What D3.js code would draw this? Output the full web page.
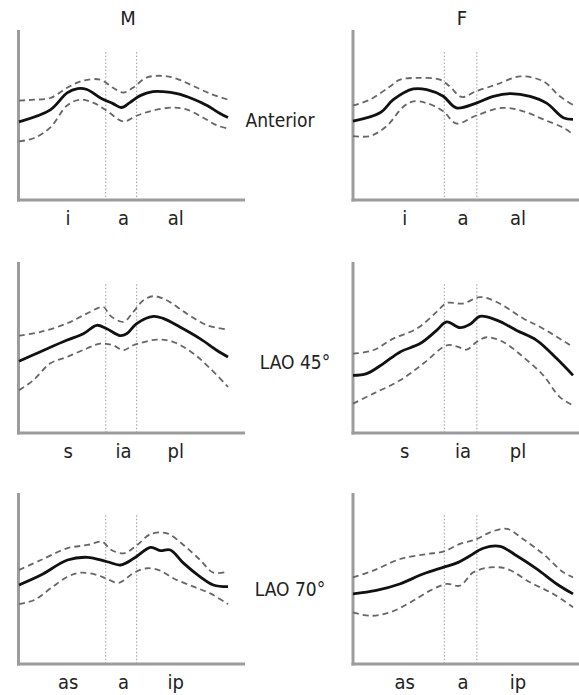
<!DOCTYPE html>
<html>
<head>
<meta charset="utf-8">
<script src="https://cdn.jsdelivr.net/npm/d3@7"></script>
<style>
  body { margin: 0; background: #fff; }
  svg text { font-family: "Liberation Sans Narrow", "DejaVu Sans Condensed", "Roboto", sans-serif; fill: #222; }
</style>
</head>
<body>
<svg id="chart" width="579" height="695"></svg>
<script>
// columns, rows and tick labels
var columns = ["M", "F"];
var rows = ["Anterior", "LAO 45°", "LAO 70°"];
var tickLabels = [["i", "a", "al"], ["s", "ia", "pl"], ["as", "a", "ip"]];
var tickPos = [23.5, 50, 75];
var dividers = [41.5, 56.3];

// curves: [position % along the wall, value % of axis height]
var mAntMean = [[0,46],[15,53],[23,63],[28,65.5],[32.5,65],[39,60],[45,56.7],[49,54.4],[53,57.3],[58,61.4],[64,63.7],[69,63.7],[75.6,62.6],[83,59.6],[90,55.6],[96,51],[100,48.5]];
var mAntUp   = [[0,58.5],[7,59],[15,60],[23,66],[30.6,70.2],[38.8,70.8],[45,66],[49.8,63.2],[54.5,66],[61,72],[69,73],[75.6,71.3],[83,67.3],[91.4,62.6],[100,59]];
var mAntLow  = [[0,34.5],[7,36.3],[15,42.7],[23,55.6],[29,59],[35.4,57.3],[42,52.6],[49.8,46.2],[56.5,49.7],[64,52.6],[73.7,54.4],[80.4,53.2],[88,48.5],[94.7,43.9],[100,42]];

var fAntMean = [[0,46.4],[12.3,51.3],[18.3,59],[27.4,65.3],[33.5,64.9],[41,61],[47,54.2],[56,57],[63.8,61],[71.4,62.6],[80.5,61],[88,57],[95.6,48.4],[100,47.4]];
var fAntUp   = [[0,55.6],[7.7,59],[16.8,66.8],[21.4,70.8],[29,71.8],[39.5,70.8],[44,66.8],[49.4,60.6],[56,64],[65,67.8],[76,72.7],[86.5,69.8],[94,61],[100,56]];
var fAntLow  = [[0,37.6],[7.7,37.6],[15.3,43.5],[23,55],[27.4,58],[33.5,57],[41,52.2],[47,45],[56,49.7],[68,54.2],[77.4,52.2],[86.5,47.4],[95.6,42.5],[100,38.6]];

var m45Mean = [[0,42],[10,47.4],[22.8,54.2],[30.8,58],[37.2,63],[42,61],[48.3,57],[51.5,58],[56.3,64],[64.3,68.2],[69,67],[77,62],[86.6,55.2],[94.6,48.4],[100,44.4]];
var m45Up   = [[0,57],[10,59],[22.8,64],[32.4,69.8],[40.4,73.7],[43.5,68.8],[50,65],[54.7,70.8],[59.5,77.6],[64.3,80],[70.7,77.6],[80.3,69.8],[90,63],[100,60.5]];
var m45Low  = [[0,25],[6.8,30.8],[14.8,40.6],[22.8,44.4],[32.4,49.4],[38.8,52.3],[45,51.3],[50,48.4],[54.7,51.3],[66,54.6],[74,53.2],[83.5,46.4],[91.5,37.7],[100,27]];

var f45Mean = [[0,33.7],[6.2,34.7],[13.8,40.6],[21.4,47.4],[30.5,52.3],[38,60],[42.6,65],[48.6,61.6],[53.2,63.6],[57.7,68.2],[65.3,66],[74.4,60],[83.5,54.2],[92.6,43.5],[100,33.7]];
var f45Up   = [[0,46.4],[9.2,48.4],[18.3,55.2],[29,61],[38,70.8],[42.6,76],[50,75.7],[57.7,79.5],[65.3,76.6],[77.4,67],[86.5,61],[100,50.3]];
var f45Low  = [[0,17.2],[9.2,23],[21.4,30.8],[32,40.6],[42.6,51.3],[47,50.7],[51.7,48.8],[56.2,53.2],[60.8,56],[68.3,53.2],[77.4,44.4],[86.5,33.7],[94,21],[100,16.2]];

var m70Mean = [[0,46.2],[10.5,52],[23.2,60.8],[32.7,62.4],[42.2,59.8],[48.6,57.9],[55,61.8],[63,68.2],[67.6,66.3],[72.4,66.7],[78.7,59],[86.7,51],[93,46.2],[100,45.2]];
var m70Up   = [[0,55],[10.5,60.8],[23.2,67.7],[32.7,69.6],[39.8,71.5],[43.8,67],[50.2,64.7],[56.5,69.6],[63,76],[70.8,76.4],[78.7,69.6],[86.7,60.8],[93,53.4],[100,54]];
var m70Low  = [[0,35],[7.3,37.4],[15.2,44.3],[23.2,51],[29.5,53.4],[37.5,52],[42.2,49.7],[47.8,47.5],[55,53.4],[61.3,56],[67.6,54.6],[74,50],[83.5,45.2],[91.5,41.3],[100,35]];

var f70Mean = [[0,41],[10.6,43],[21.2,46.8],[31.8,52.6],[41,56.5],[47,59],[53.2,63.3],[59.2,67.7],[66.8,68.8],[74.4,63.3],[83.5,55.6],[92.6,46.8],[100,41]];
var f70Up   = [[0,50.7],[9.2,54.6],[21.4,61.4],[33.5,64.3],[41,65.7],[48.6,70.2],[56.2,73],[62.3,77],[70,79],[77.4,73],[86.5,64.3],[95.6,53.6],[100,50.7]];
var f70Low  = [[0,30.2],[7.7,28.2],[16.8,30.2],[26,36],[35,42.9],[42.6,46.8],[48.6,45.8],[54.7,53.6],[62.3,56.5],[70,55.6],[80.5,47.8],[91,41],[100,33.2]];

var series = [
  [[mAntMean, mAntUp, mAntLow], [fAntMean, fAntUp, fAntLow]],
  [[m45Mean, m45Up, m45Low], [f45Mean, f45Up, f45Low]],
  [[m70Mean, m70Up, m70Low], [f70Mean, f70Up, f70Low]]
];

// layout
var colX = [{axis: 18.5, x0: 19, x1: 228, end: 245}, {axis: 353, x0: 353, x1: 573, end: 579}];
var rowY = [{top: 30, bottom: 200}, {top: 262, bottom: 433}, {top: 493, bottom: 664}];
var rowLabelX = [280, 295, 290];
var rowLabelY = [127, 369, 596];

var svg = d3.select("#chart");

svg.selectAll("text.col-title")
  .data(columns)
  .join("text")
  .attr("class", "col-title")
  .attr("x", (d, i) => i == 0 ? 128 : 462)
  .attr("y", 25)
  .attr("text-anchor", "middle")
  .style("font-size", "20px")
  .text(d => d);

svg.selectAll("text.row-title")
  .data(rows)
  .join("text")
  .attr("class", "row-title")
  .attr("x", (d, i) => rowLabelX[i])
  .attr("y", (d, i) => rowLabelY[i])
  .attr("text-anchor", "middle")
  .style("font-size", "19px")
  .text(d => d);

var line = d3.line().curve(d3.curveCatmullRom.alpha(0.5));

for (var r = 0; r < 3; r++) {
  for (var c = 0; c < 2; c++) {
    var g = svg.append("g");
    var x = d3.scaleLinear().domain([0, 100]).range([colX[c].x0, colX[c].x1]);
    var y = d3.scaleLinear().domain([0, 100]).range([rowY[r].bottom, rowY[r].top]);

    // wall segment dividers
    g.selectAll("line.div")
      .data(dividers)
      .join("line")
      .attr("class", "div")
      .attr("x1", d => x(d)).attr("x2", d => x(d))
      .attr("y1", y(87)).attr("y2", y(0))
      .style("stroke", "#9a9a9a")
      .style("stroke-width", 1)
      .style("stroke-dasharray", "1.5,2");

    // axes
    g.append("line")
      .attr("x1", colX[c].axis).attr("x2", colX[c].axis)
      .attr("y1", y(100)).attr("y2", y(0) + 1.5)
      .style("stroke", "#9c9c9c").style("stroke-width", 3);
    g.append("line")
      .attr("x1", colX[c].axis - 1.5).attr("x2", colX[c].end)
      .attr("y1", y(0)).attr("y2", y(0))
      .style("stroke", "#9c9c9c").style("stroke-width", 3);

    var s = series[r][c];
    line.x(d => x(d[0])).y(d => y(d[1]));

    g.selectAll("path.band")
      .data([s[1], s[2]])
      .join("path")
      .attr("class", "band")
      .attr("d", line)
      .style("fill", "none")
      .style("stroke", "#666")
      .style("stroke-width", 1.8)
      .style("stroke-dasharray", "6,4");

    g.append("path")
      .attr("d", line(s[0]))
      .style("fill", "none")
      .style("stroke", "#111")
      .style("stroke-width", 2.8);

    g.selectAll("text.tick")
      .data(tickLabels[r])
      .join("text")
      .attr("class", "tick")
      .attr("x", (d, i) => x(tickPos[i]))
      .attr("y", y(0) + 25)
      .attr("text-anchor", "middle")
      .style("font-size", "20px")
      .text(d => d);
  }
}
</script>
</body>
</html>
